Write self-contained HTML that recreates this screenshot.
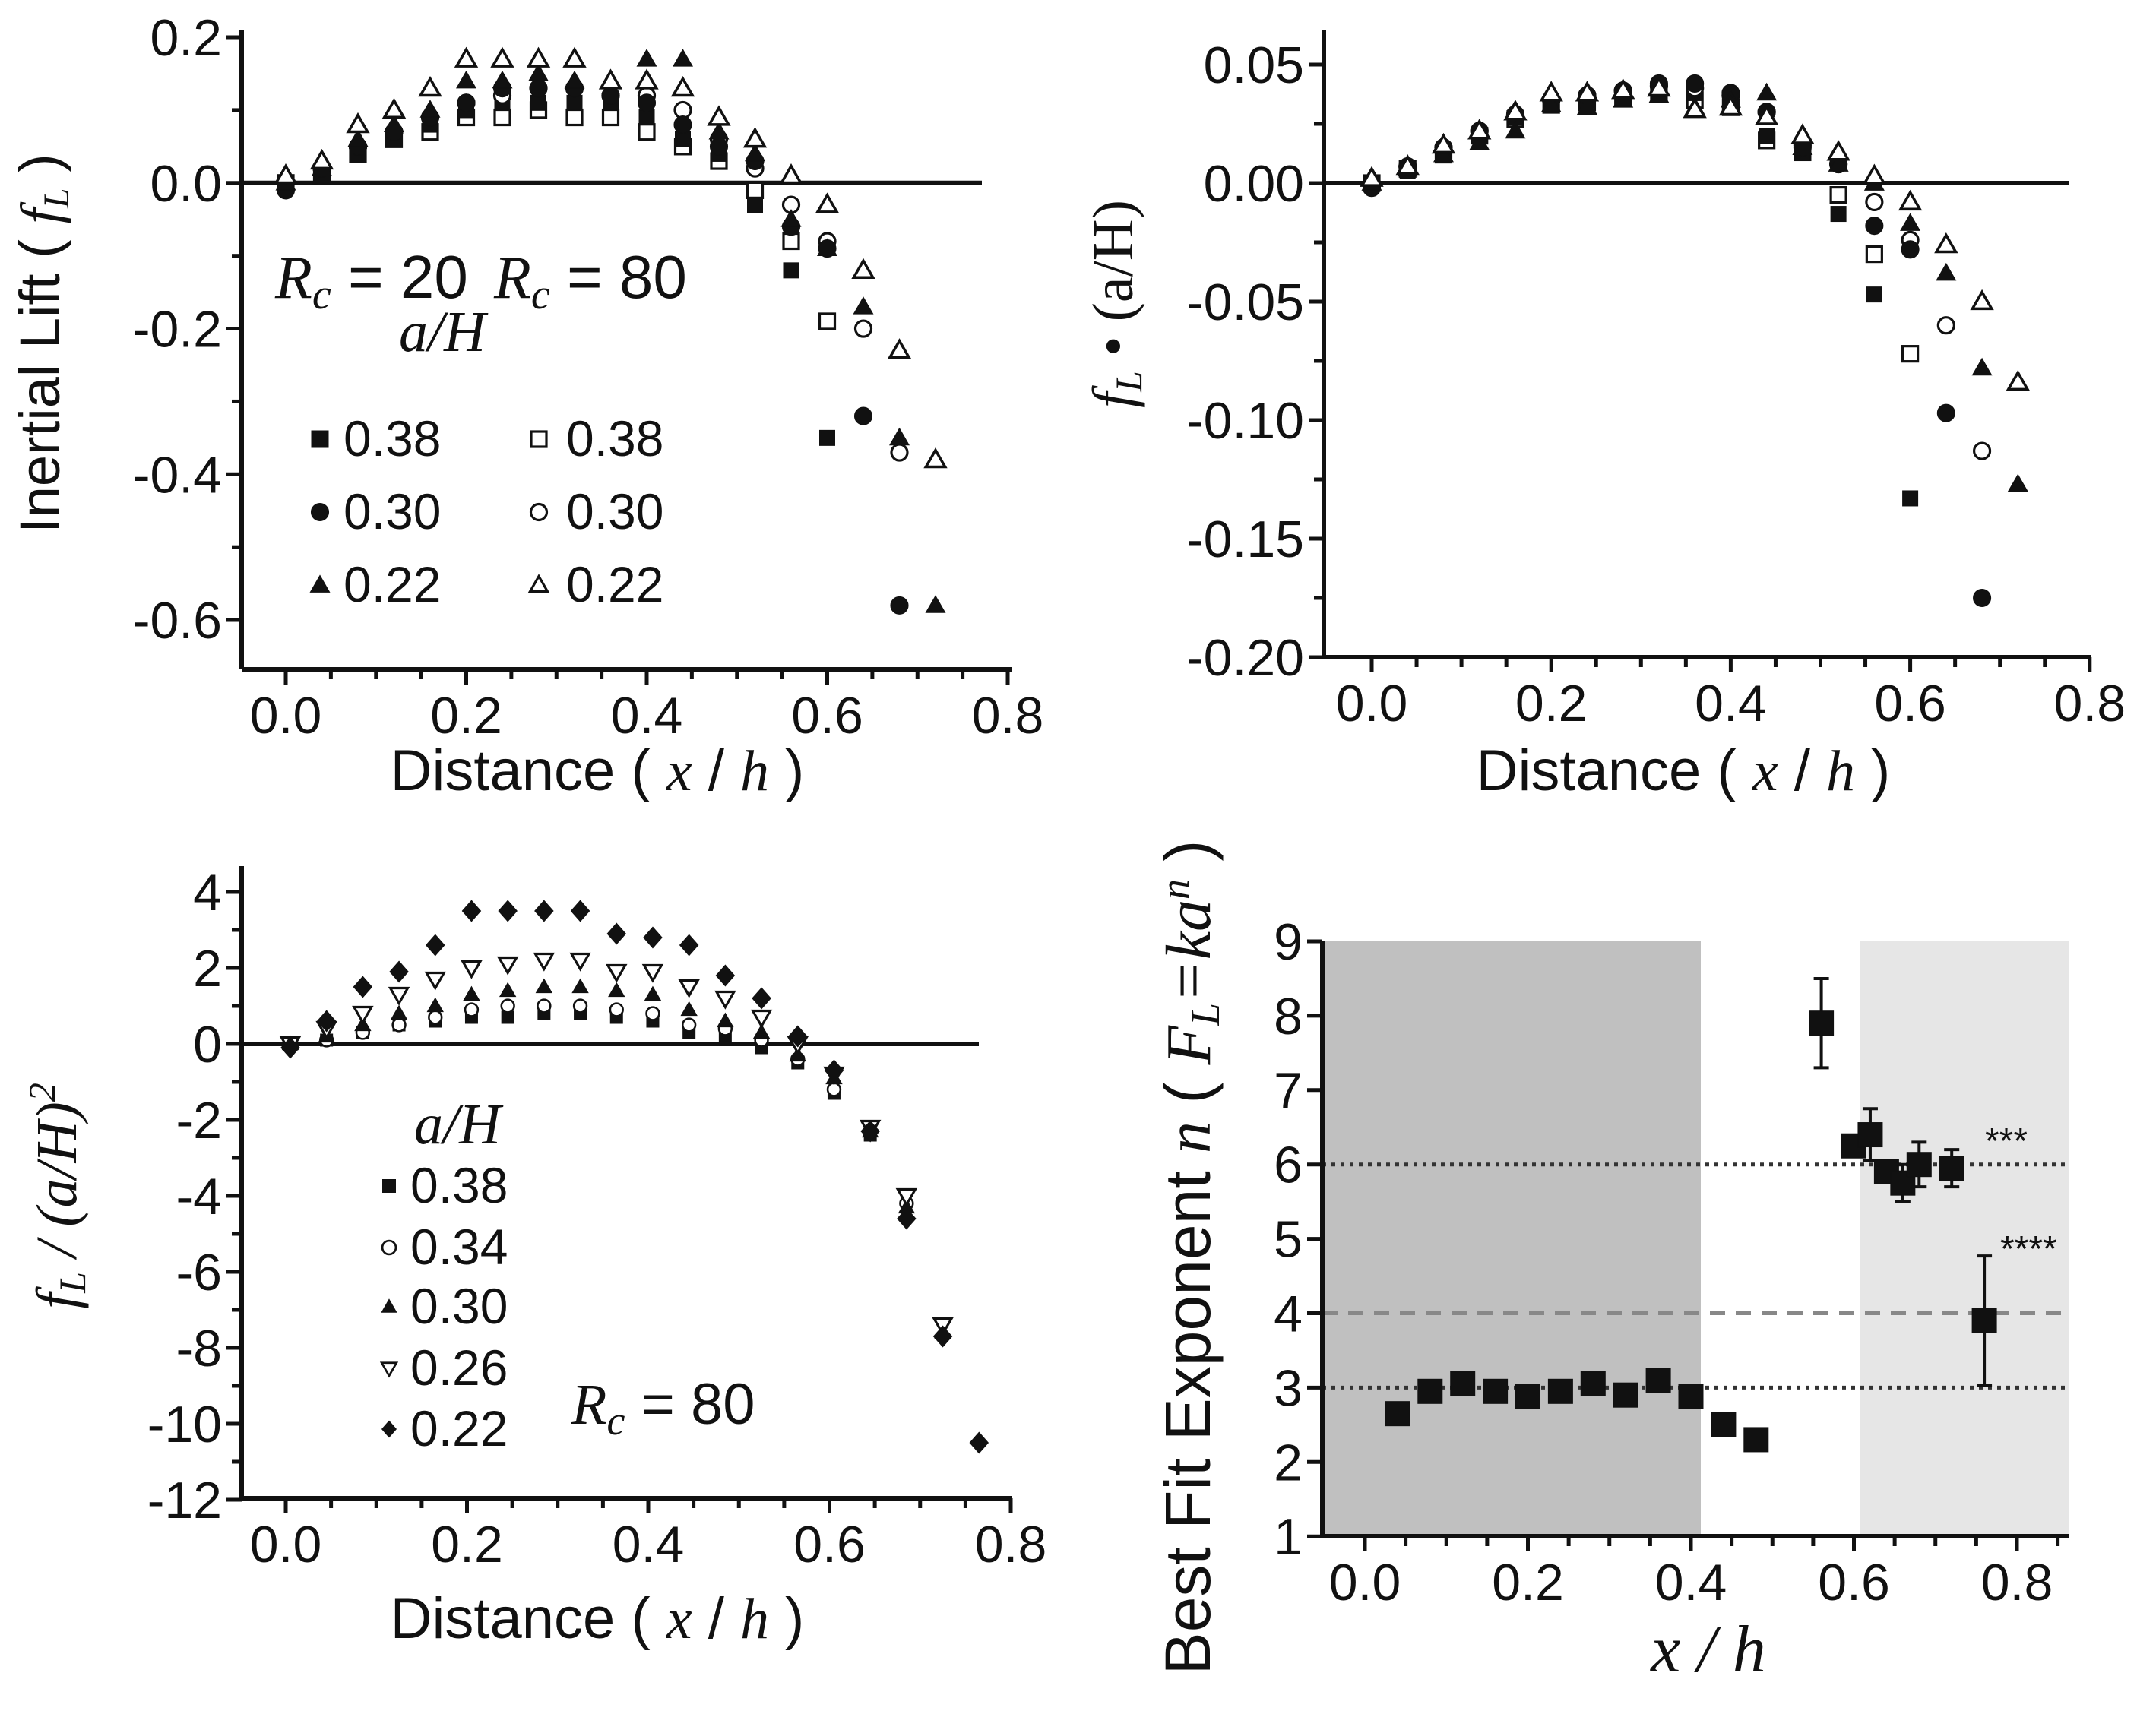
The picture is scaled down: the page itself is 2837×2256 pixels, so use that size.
<!DOCTYPE html>
<html><head><meta charset="utf-8">
<style>
html,body{margin:0;padding:0;background:#fff;}
svg{display:block;}
text{font-family:"Liberation Sans",sans-serif;fill:#111;}
.it{font-family:"Liberation Serif",serif;font-style:italic;}
</style></head>
<body>
<svg id="fig" width="2837" height="2256" viewBox="0 0 2837 2256" xmlns="http://www.w3.org/2000/svg">
<rect x="0" y="0" width="2837" height="2256" fill="#fff"/>
<rect x="1740" y="1239" width="498" height="783" fill="#c0c0c0"/>
<rect x="2448" y="1239" width="275" height="783" fill="#e6e6e6"/>
<g id="g"></g>
<text x="786" y="1040" font-size="76" text-anchor="middle">Distance ( <tspan class="it">x</tspan> / <tspan class="it">h</tspan> )</text>
<text transform="translate(78,452) rotate(-90)" font-size="74" text-anchor="middle">Inertial Lift ( <tspan class="it">f</tspan><tspan class="it" font-size="48" dy="12">L</tspan><tspan dy="-12"> )</tspan></text>
<text x="2215" y="1040" font-size="76" text-anchor="middle">Distance ( <tspan class="it">x</tspan> / <tspan class="it">h</tspan> )</text>
<text transform="translate(1490,400) rotate(-90)" font-size="76" text-anchor="middle" class="it">f<tspan font-size="50" dy="12">L</tspan><tspan dy="-12" font-style="normal"> • (a/H)</tspan></text>
<text x="786" y="2156" font-size="76" text-anchor="middle">Distance ( <tspan class="it">x</tspan> / <tspan class="it">h</tspan> )</text>
<text transform="translate(100,1574) rotate(-90)" font-size="76" text-anchor="middle" class="it">f<tspan font-size="50" dy="12">L</tspan><tspan dy="-12"> / (a/H)</tspan><tspan font-size="50" dy="-28">2</tspan></text>
<text x="2248" y="2200" font-size="88" text-anchor="middle" class="it">x / h</text>
<text transform="translate(1592,1655) rotate(-90)" font-size="84" text-anchor="middle">Best Fit Exponent <tspan class="it">n</tspan> ( <tspan class="it">F</tspan><tspan class="it" font-size="54" dy="12">L</tspan><tspan class="it" dy="-12">=ka</tspan><tspan class="it" font-size="54" dy="-28">n</tspan><tspan dy="28"> )</tspan></text>
<text x="362" y="392" font-size="80"><tspan class="it">R</tspan><tspan class="it" font-size="56" dy="14">c</tspan><tspan dy="-14"> = 20</tspan></text>
<text x="650" y="392" font-size="80"><tspan class="it">R</tspan><tspan class="it" font-size="56" dy="14">c</tspan><tspan dy="-14"> = 80</tspan></text>
<text x="525" y="462" font-size="76" class="it">a/H</text>
<text x="545" y="1505" font-size="76" class="it">a/H</text>
<text x="752" y="1874" font-size="76"><tspan class="it">R</tspan><tspan class="it" font-size="54" dy="14">c</tspan><tspan dy="-14"> = 80</tspan></text>
<text x="2612" y="1518" font-size="48">***</text>
<text x="2632" y="1660" font-size="48">****</text>
</svg>
<script>
// ===== Panel A data (f_L) =====
const xA = [0,0.04,0.08,0.12,0.16,0.20,0.24,0.28,0.32,0.36,0.40,0.44,0.48,0.52,0.56,0.60,0.64,0.68,0.72];
const aSqF = [0,0.01,0.04,0.06,0.08,0.10,0.11,0.11,0.11,0.11,0.09,0.06,0.04,-0.03,-0.12,-0.35];
const aSqO = [0,0.01,0.04,0.06,0.07,0.09,0.09,0.10,0.09,0.09,0.07,0.05,0.03,-0.01,-0.08,-0.19];
const aCiF = [-0.01,0.02,0.05,0.07,0.09,0.11,0.13,0.13,0.13,0.12,0.11,0.08,0.05,0.03,-0.06,-0.09,-0.32,-0.58];
const aCiO = [0,0.02,0.05,0.07,0.09,0.11,0.12,0.13,0.13,0.12,0.12,0.10,0.06,0.02,-0.03,-0.08,-0.20,-0.37];
const aTrF = [0,0.02,0.06,0.08,0.10,0.14,0.14,0.15,0.14,0.14,0.17,0.17,0.07,0.04,-0.05,-0.09,-0.17,-0.35,-0.58];
const aTrO = [0.01,0.03,0.08,0.10,0.13,0.17,0.17,0.17,0.17,0.14,0.14,0.13,0.09,0.06,0.01,-0.03,-0.12,-0.23,-0.38];
const aYTicks = [0.2,0.0,-0.2,-0.4,-0.6];
const aYLabels = ["0.2","0.0","-0.2","-0.4","-0.6"];
const xTicks = [0,0.2,0.4,0.6,0.8];
const xLabels = ["0.0","0.2","0.4","0.6","0.8"];
// ===== Panel B data =====
const bSqF = [0,0.005,0.013,0.02,0.028,0.033,0.035,0.037,0.038,0.038,0.033,0.02,0.013,-0.013,-0.047,-0.133];
const bSqO = [0,0.006,0.012,0.02,0.027,0.033,0.034,0.036,0.038,0.035,0.032,0.018,0.013,-0.005,-0.03,-0.072];
const bCiF = [-0.002,0.007,0.015,0.022,0.028,0.035,0.037,0.039,0.042,0.042,0.038,0.03,0.015,0.008,-0.018,-0.028,-0.097,-0.175];
const bCiO = [0,0.007,0.015,0.022,0.029,0.035,0.037,0.039,0.041,0.04,0.037,0.03,0.016,0.008,-0.008,-0.024,-0.06,-0.113];
const bTrF = [0,0.006,0.012,0.017,0.022,0.033,0.032,0.035,0.037,0.032,0.035,0.038,0.015,0.008,0,-0.017,-0.038,-0.078,-0.127];
const bTrO = [0.002,0.007,0.016,0.022,0.03,0.038,0.038,0.039,0.04,0.031,0.032,0.028,0.02,0.013,0.003,-0.008,-0.026,-0.05,-0.084];
const bYTicks = [0.05,0,-0.05,-0.10,-0.15,-0.20];
const bYLabels = ["0.05","0.00","-0.05","-0.10","-0.15","-0.20"];
// ===== Panel C data =====
const xC = [0.005,0.045,0.085,0.125,0.165,0.205,0.245,0.285,0.325,0.365,0.405,0.445,0.485,0.525,0.565,0.605,0.645,0.685,0.725,0.765];
const c38 = [0,0.1,0.3,0.5,0.6,0.7,0.7,0.8,0.8,0.7,0.6,0.3,0.2,-0.1,-0.5,-1.3,-2.4];
const c34 = [0,0.1,0.3,0.5,0.7,0.9,1.0,1.0,1.0,0.9,0.8,0.5,0.4,0.1,-0.4,-1.2,-2.3,-4.2];
const c30 = [0,0.2,0.5,0.8,1.0,1.3,1.4,1.5,1.5,1.4,1.3,0.9,0.6,0.3,-0.3,-0.9,-2.3,-4.3,-7.6];
const c26 = [0,0.4,0.8,1.3,1.7,2.0,2.1,2.2,2.2,1.9,1.9,1.5,1.2,0.7,0,-0.8,-2.2,-4.0,-7.4];
const c22 = [-0.1,0.6,1.5,1.9,2.6,3.5,3.5,3.5,3.5,2.9,2.8,2.6,1.8,1.2,0.2,-0.7,-2.3,-4.6,-7.7,-10.5];
const cYTicks = [4,2,0,-2,-4,-6,-8,-10,-12];
const cYLabels = ["4","2","0","-2","-4","-6","-8","-10","-12"];
// ===== Panel D data =====
const xD = [0.04,0.08,0.12,0.16,0.20,0.24,0.28,0.32,0.36,0.40,0.44,0.48,0.56,0.60,0.62,0.64,0.66,0.68,0.72,0.76];
const nD = [2.65,2.95,3.05,2.95,2.88,2.95,3.05,2.9,3.1,2.88,2.5,2.3,7.9,6.25,6.4,5.9,5.75,6.0,5.95,3.9];
const errD = [0,0,0,0,0,0,0,0,0,0,0.12,0.1,0.6,0.1,0.35,0.12,0.25,0.3,0.25,0.87];
const dYTicks = [1,2,3,4,5,6,7,8,9];
const dYLabels = ["1","2","3","4","5","6","7","8","9"];

const NS = "http://www.w3.org/2000/svg";
const G = document.getElementById('g');
function mk(tag, attrs){
  const e = document.createElementNS(NS, tag);
  for (const k in attrs) e.setAttribute(k, attrs[k]);
  G.appendChild(e);
  return e;
}
function nm(e, n){
  
  
}
function marker(type, cx, cy, s, name){
  const h = s/2; let e;
  const open = type.startsWith('o');
  const fill = open ? '#fff' : '#111';
  const sw = open ? s*0.16 : 1;
  const t = open ? type.slice(1) : type;
  if (t === 'sq') e = mk('rect', {x:cx-h, y:cy-h, width:s, height:s, fill:fill, stroke:'#111', 'stroke-width':sw});
  else if (t === 'ci') e = mk('circle', {cx:cx, cy:cy, r:h*1.05, fill:fill, stroke:'#111', 'stroke-width':sw});
  else if (t === 'tr') e = mk('polygon', {points:`${cx},${cy-h*1.15} ${cx+h*1.15},${cy+h*0.85} ${cx-h*1.15},${cy+h*0.85}`, fill:fill, stroke:'#111', 'stroke-width':sw});
  else if (t === 'dt') e = mk('polygon', {points:`${cx},${cy+h*1.15} ${cx+h*1.15},${cy-h*0.85} ${cx-h*1.15},${cy-h*0.85}`, fill:fill, stroke:'#111', 'stroke-width':sw});
  else if (t === 'di') e = mk('polygon', {points:`${cx},${cy-h*1.25} ${cx+h*1.1},${cy} ${cx},${cy+h*1.25} ${cx-h*1.1},${cy}`, fill:fill, stroke:'#111', 'stroke-width':sw});
  nm(e, name);
  return e;
}
function axes(p, pre){
  let e = mk('line', {x1:p.ax, y1:p.top, x2:p.ax, y2:p.bot, stroke:'#111', 'stroke-width':6});
  nm(e, pre+'-y-axis');
  e = mk('line', {x1:p.ax, y1:p.bot, x2:p.right, y2:p.bot, stroke:'#111', 'stroke-width':6});
  nm(e, pre+'-x-axis');
  for (let v = 0; v <= p.xmax + 1e-9; v += 0.05) {
    const major = Math.abs(v*5 - Math.round(v*5)) < 1e-6;
    const X = p.x(v);
    e = mk('line', {x1:X, y1:p.bot, x2:X, y2:p.bot + (major?20:13), stroke:'#111', 'stroke-width':5});
    nm(e, pre+'-x-tick');
  }
  xTicks.forEach((v,i) => {
    const t = mk('text', {x:p.x(v), y:p.bot+84, 'font-size':68, 'text-anchor':'middle'});
    t.textContent = xLabels[i];
    nm(t, pre+'-x-tick-label');
  });
  p.yt.forEach((v,i) => {
    const Y = p.y(v);
    e = mk('line', {x1:p.ax-20, y1:Y, x2:p.ax, y2:Y, stroke:'#111', 'stroke-width':5});
    nm(e, pre+'-y-tick');
    const t = mk('text', {x:p.ax-26, y:Y+24, 'font-size':68, 'text-anchor':'end'});
    t.textContent = p.yl[i];
    nm(t, pre+'-y-tick-label');
    if (p.minor && i < p.yt.length-1) {
      const m = p.y((v + p.yt[i+1])/2);
      e = mk('line', {x1:p.ax-13, y1:m, x2:p.ax, y2:m, stroke:'#111', 'stroke-width':5});
      nm(e, pre+'-y-minor-tick');
    }
  });
}
function series(p, xs, ys, type, s, name){
  ys.forEach((v,i) => marker(type, p.x(xs[i]), p.y(v), s, name));
}
const PA = {ax:318, top:40, bot:881, right:1332, xmax:0.8,
  x: v => 376 + v*1187.5, y: v => 240.8 - v*958.75, yt:aYTicks, yl:aYLabels, minor:true};
axes(PA, 'panel-a');
let z = mk('line', {x1:318, y1:PA.y(0), x2:1292, y2:PA.y(0), stroke:'#111', 'stroke-width':6});
nm(z, 'panel-a-zero-line');
series(PA, xA, aSqO, 'osq', 20, 'panel-a-rc80-038');
series(PA, xA, aSqF, 'sq', 20, 'panel-a-rc20-038');
series(PA, xA, aCiO, 'oci', 20, 'panel-a-rc80-030');
series(PA, xA, aCiF, 'ci', 22, 'panel-a-rc20-030');
series(PA, xA, aTrF, 'tr', 22, 'panel-a-rc20-022');
series(PA, xA, aTrO, 'otr', 22, 'panel-a-rc80-022');
const legY = [600,696,792];
const legA1 = ['sq','ci','tr'];
const legA2 = ['osq','oci','otr'];
const legTxt = ['0.38','0.30','0.22'];
legY.forEach((y,i) => {
  marker(legA1[i], 421, y-22, 22, 'legend-marker-rc20');
  let t = mk('text', {x:452, y:y, 'font-size':66}); t.textContent = legTxt[i]; nm(t, 'legend-label-rc20');
  marker(legA2[i], 709, y-22, 20, 'legend-marker-rc80');
  t = mk('text', {x:745, y:y, 'font-size':66}); t.textContent = legTxt[i]; nm(t, 'legend-label-rc80');
});
const PB = {ax:1742, top:40, bot:865, right:2752, xmax:0.8,
  x: v => 1805 + v*1181, y: v => 241 - v*3120, yt:bYTicks, yl:bYLabels, minor:true};
axes(PB, 'panel-b');
z = mk('line', {x1:1742, y1:PB.y(0), x2:2722, y2:PB.y(0), stroke:'#111', 'stroke-width':6});
nm(z, 'panel-b-zero-line');
series(PB, xA, bSqO, 'osq', 20, 'panel-b-rc80-038');
series(PB, xA, bSqF, 'sq', 20, 'panel-b-rc20-038');
series(PB, xA, bCiO, 'oci', 20, 'panel-b-rc80-030');
series(PB, xA, bCiF, 'ci', 22, 'panel-b-rc20-030');
series(PB, xA, bTrF, 'tr', 22, 'panel-b-rc20-022');
series(PB, xA, bTrO, 'otr', 22, 'panel-b-rc80-022');
const PC = {ax:318, top:1140, bot:1972, right:1332, xmax:0.8,
  x: v => 376 + v*1192.5, y: v => 1374 - v*50, yt:cYTicks, yl:cYLabels, minor:true};
axes(PC, 'panel-c');
z = mk('line', {x1:318, y1:PC.y(0), x2:1288, y2:PC.y(0), stroke:'#111', 'stroke-width':6});
nm(z, 'panel-c-zero-line');
series(PC, xC, c38, 'sq', 16, 'panel-c-038');
series(PC, xC, c34, 'oci', 16, 'panel-c-034');
series(PC, xC, c30, 'tr', 18, 'panel-c-030');
series(PC, xC, c26, 'odt', 20, 'panel-c-026');
series(PC, xC, c22, 'di', 22, 'panel-c-022');
const legCY = [1583,1664,1742,1823,1903];
const legCT = ['sq','oci','tr','odt','di'];
const legCTxt = ['0.38','0.34','0.30','0.26','0.22'];
legCY.forEach((y,i) => {
  marker(legCT[i], 512, y-22, 17, 'legend-c-marker');
  const t = mk('text', {x:540, y:y, 'font-size':66}); t.textContent = legCTxt[i]; nm(t, 'legend-c-label');
});
const PD = {ax:1740, top:1239, bot:2022, right:2723, xmax:0.85,
  x: v => 1796 + v*1072.5, y: v => 1239 + (9-v)*97.9, yt:dYTicks, yl:dYLabels, minor:false};
[6,3].forEach(v => {
  const l = mk('line', {x1:1740, y1:PD.y(v), x2:2723, y2:PD.y(v), stroke:'#333', 'stroke-width':5, 'stroke-dasharray':'5 7'});
  nm(l, 'reference-line-dotted');
});
z = mk('line', {x1:1740, y1:PD.y(4), x2:2723, y2:PD.y(4), stroke:'#888', 'stroke-width':5, 'stroke-dasharray':'20 14'});
nm(z, 'reference-line-dashed');
axes(PD, 'panel-d');
nD.forEach((v,i) => {
  const X = PD.x(xD[i]);
  if (errD[i] > 0.2) {
    let e = mk('line', {x1:X, y1:PD.y(v+errD[i]), x2:X, y2:PD.y(v-errD[i]), stroke:'#111', 'stroke-width':4});
    nm(e, 'error-bar');
    e = mk('line', {x1:X-10, y1:PD.y(v+errD[i]), x2:X+10, y2:PD.y(v+errD[i]), stroke:'#111', 'stroke-width':4});
    nm(e, 'error-cap');
    e = mk('line', {x1:X-10, y1:PD.y(v-errD[i]), x2:X+10, y2:PD.y(v-errD[i]), stroke:'#111', 'stroke-width':4});
    nm(e, 'error-cap');
  }
  marker('sq', X, PD.y(v), 32, 'exponent-point');
});
</script>
</body></html>
